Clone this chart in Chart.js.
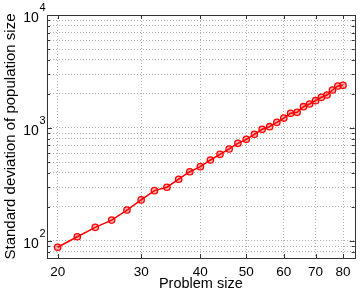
<!DOCTYPE html>
<html><head><meta charset="utf-8">
<script src="https://cdn.jsdelivr.net/npm/chart.js@4"></script>
<style>html,body{margin:0;padding:0;background:#fff}</style>
</head><body>
<canvas id="c" width="360" height="293"></canvas>
<script>
const problemSize = [20,22,24,26,28,30,32,34,36,38,40,42,44,46,48,50,52,54,56,58,60,62,64,66,68,70,72,74,76,78,80];
const stdDevPopSize = [88,109,132,153,188,231,279,299,352,410,455,521,585,652,732,794,880,974,1027,1122,1225,1349,1377,1543,1630,1744,1870,1959,2168,2353,2387];
const xTickValues = [20,30,40,50,60,70,80];
const yMajorExponents = [2,3,4];
const yTickValues = [80,90,100,200,300,400,500,600,700,800,900,1000,2000,3000,4000,5000,6000,7000,8000,9000,10000];
const xAxisTitle = 'Problem size';
const yAxisTitle = 'Standard deviation of population size';

Chart.defaults.font.family = '"Liberation Sans", Arial, sans-serif';
Chart.defaults.color = '#000';

const boxPlugin = {
  id: 'box',
  afterDraw(chart) {
    const ctx = chart.ctx, a = chart.chartArea, xs = chart.scales.x, ys = chart.scales.y;
    ctx.save();
    ctx.strokeStyle = '#333';
    ctx.lineWidth = 1;
    ctx.beginPath();
    yTickValues.forEach(v => {
      const py = Math.round(ys.getPixelForValue(v)) + 0.5;
      const len = yMajorExponents.some(e => Math.pow(10, e) === v) ? 5 : 3;
      ctx.moveTo(a.left, py); ctx.lineTo(a.left + len, py);
      ctx.moveTo(a.right, py); ctx.lineTo(a.right - len, py);
    });
    xTickValues.forEach(v => {
      const px = Math.round(xs.getPixelForValue(v)) + 0.5;
      ctx.moveTo(px, a.bottom); ctx.lineTo(px, a.bottom - 4);
      ctx.moveTo(px, a.top); ctx.lineTo(px, a.top + 4);
    });
    ctx.stroke();
    ctx.strokeRect(Math.round(a.left) + 0.5, Math.round(a.top) + 0.5, Math.round(a.right - a.left), Math.round(a.bottom - a.top));
    ctx.fillStyle = '#000';
    const right = a.left - 1.5;
    yMajorExponents.forEach(e => {
      const py = ys.getPixelForValue(Math.pow(10, e));
      ctx.font = '11px "Liberation Sans"';
      const ew = ctx.measureText(String(e)).width;
      ctx.textAlign = 'left'; ctx.textBaseline = 'middle';
      ctx.fillText(String(e), right - ew, py - 7.5);
      ctx.font = '14px "Liberation Sans"';
      ctx.textAlign = 'right';
      ctx.fillText('10', right - ew - 0.5, py + 3);
    });
    ctx.restore();
  }
};

new Chart(document.getElementById('c'), {
  type: 'line',
  data: {
    datasets: [{
      data: problemSize.map((x, i) => ({x: x, y: stdDevPopSize[i]})),
      borderColor: '#ff0000',
      borderWidth: 1.5,
      pointRadius: 3.2,
      pointBorderWidth: 1.3,
      pointBorderColor: '#ff0000',
      pointBackgroundColor: 'rgba(255,0,0,0.3)',
      tension: 0
    }]
  },
  options: {
    responsive: false,
    devicePixelRatio: 1,
    animation: false,
    plugins: {legend: {display: false}, tooltip: {enabled: false}},
    layout: {padding: {top: 15, right: 4, bottom: 0, left: 2}},
    scales: {
      x: {
        type: 'logarithmic',
        min: 18.99, max: 84.66,
        afterBuildTicks(s) { s.ticks = xTickValues.map(v => ({value: v})); },
        afterFit(s) { s.height = 35; },
        grid: {color: '#b0b0b0', lineWidth: 1, drawTicks: false},
        border: {display: false, dash: [1, 2]},
        ticks: {autoSkip: false, maxRotation: 0, padding: 6, font: {size: 13.5}, callback: v => String(v)},
        title: {display: true, text: xAxisTitle, font: {size: 14.5}, padding: 0}
      },
      y: {
        type: 'logarithmic',
        min: 70.7, max: 10000,
        afterBuildTicks(s) { s.ticks = yTickValues.map(v => ({value: v})); },
        afterFit(s) { s.width = 45; },
        grid: {color: '#b0b0b0', lineWidth: 1, drawTicks: false},
        border: {display: false, dash: [1, 2]},
        ticks: {autoSkip: false, callback: () => ''},
        title: {display: true, text: yAxisTitle, font: {size: 15}, padding: 0}
      }
    }
  },
  plugins: [boxPlugin]
});
</script>
</body></html>
